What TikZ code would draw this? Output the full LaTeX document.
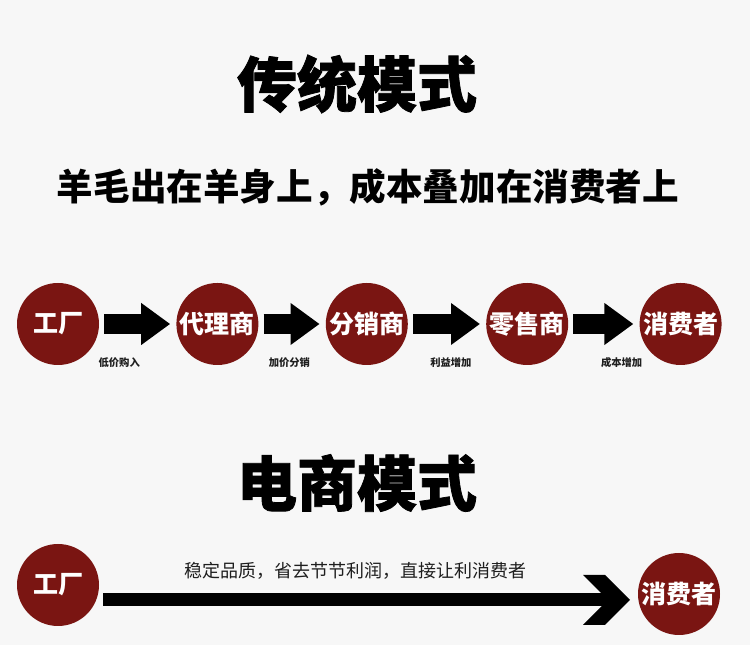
\documentclass[tikz,border=0pt]{standalone}
\usepackage{fontspec}
\setmainfont{Noto Sans CJK SC}
\newfontfamily\heavyfont{Noto Sans CJK SC}[BoldFeatures={FakeBold=1.3}]
\usetikzlibrary{arrows.meta,positioning}

\definecolor{bgGrey}{HTML}{F7F7F7}
\definecolor{darkRed}{HTML}{7A1512}
\definecolor{txtDark}{HTML}{1E1E1E}

\begin{document}
\begin{tikzpicture}[x=1pt, y=1pt,
	node distance = 70pt,
	stage/.style = {circle, fill=darkRed, text=white, inner sep=0pt,
		minimum size=82pt, font=\fontsize{25}{25}\selectfont\bfseries},
	blk/.style = {line width=20pt, -{Triangle[length=29pt,width=40pt]},
		shorten <=5pt, shorten >=6pt},
	lbl/.style = {anchor=north, inner sep=0pt, yshift=-24pt, text=txtDark,
		font=\fontsize{10.3}{10}\selectfont\bfseries},
	ttl/.style = {inner sep=0pt, font=\fontsize{60}{60}\selectfont\heavyfont\bfseries}
	]
	% page
	\fill[bgGrey] (0,0) rectangle (750,660);
	\fill[white] (0,0) rectangle (750,15);
	\useasboundingbox (0,0) rectangle (750,660);
	
	% headings
	\node (t1) [ttl] at (357,576) {传统模式};
	\node (sub) [inner sep=0pt, font=\fontsize{36.6}{37}\selectfont\bfseries]
		at (368,473) {羊毛出在羊身上，成本叠加在消费者上};
	\node (t2) [ttl] at (357,177) {电商模式};
	
	% traditional chain
	\node (f1) [stage] at (58,336) {工厂};
	\node (a1) [stage, right=77pt of f1] {代理商};
	\node (d1) [stage, right=67pt of a1] {分销商};
	\node (r1) [stage, right=78pt of d1] {零售商};
	\node (c1) [stage, right=71pt of r1] {消费者};
	
	\path
	(f1)  edge [blk]  node[lbl, pos=0.26]  {低价购入}   (a1)
	(a1)  edge [blk]  node[lbl, pos=0.46]  {加价分销}   (d1)
	(d1)  edge [blk]  node[lbl, pos=0.55]  {利益增加}   (r1)
	(r1)  edge [blk]  node[lbl, pos=0.75]  {成本增加}   (c1);
	
	% e-commerce
	\node (f2) [stage] at (58,75) {工厂};
	\node (c2) [stage] at (679,66) {消费者};
	\coordinate (hd) at (608,60);
	
	\draw[line width=13pt] ([xshift=4pt]f2.east |- hd) -- node[midway, above=14pt, inner sep=0pt, text=txtDark,
		font=\fontsize{18}{18}\selectfont] {稳定品质，省去节节利润，直接让利消费者} (hd);
	\fill (hd) -- ++(-25,25) -- ++(22,0) -- ++(25,-25) -- ++(-25,-25) -- ++(-22,0) -- cycle;
\end{tikzpicture}
\end{document}
